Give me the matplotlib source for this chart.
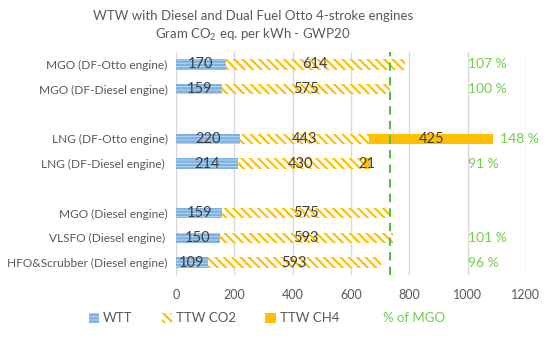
import matplotlib.pyplot as plt
from matplotlib.patches import Patch
import numpy as np

plt.rcParams['font.family'] = ['Lato', 'DejaVu Sans']
plt.rcParams['mathtext.default'] = 'regular'
plt.rcParams['hatch.linewidth'] = 1.6

# 数据
categories = ["MGO (DF-Otto engine)", "MGO (DF-Diesel engine)",
              "LNG (DF-Otto engine)", "LNG (DF-Diesel engine) ",
              "MGO (Diesel engine)", "VLSFO (Diesel engine) ",
              "HFO&Scrubber (Diesel engine)"]
wtt = [170, 159, 220, 214, 159, 150, 109]
ttw_co2 = [614, 575, 443, 430, 575, 593, 593]
ttw_ch4 = [0, 0, 425, 21, 0, 0, 0]
pct_of_mgo = ["107 %", "100 %", "148 %", "91 %", "", "101 %", "96 %"]
mgo_ref = 159 + 575
group_sizes = [2, 2, 3]

# 行位置（组间空一行）
ypos = []
start = 0
for g in group_sizes:
    ypos += list(range(start, start + g))
    start += g + 1
ypos = np.array(ypos)

blue_face = '#B4D4F0'
blue_edge = '#7DB0E0'
orange = '#FFC000'
green = '#6FCF4A'
txt = '#404040'

fig = plt.figure(figsize=(5.5, 3.41), dpi=100)
ax = fig.add_axes([0.32, 0.1935, 0.636, 0.654])

h = 0.42
wtt = np.array(wtt)
co2 = np.array(ttw_co2)
ch4 = np.array(ttw_ch4)
ax.barh(ypos, wtt, height=h, color=blue_face, edgecolor=blue_edge, hatch='-----', linewidth=0, zorder=3)
ax.barh(ypos, co2, left=wtt, height=h, color='white', edgecolor=orange, hatch='\\\\\\\\', linewidth=0, zorder=3)
ax.barh(ypos, ch4, left=wtt + co2, height=h, color=orange, linewidth=0, zorder=3)

for i, y in enumerate(ypos):
    ax.text(wtt[i] / 2, y, str(wtt[i]), ha='center', va='center', color=txt, fontsize=10.5, zorder=5)
    ax.text(wtt[i] + co2[i] / 2, y, str(co2[i]), ha='center', va='center', color=txt, fontsize=10.5, zorder=5)
    if ch4[i] > 0:
        ax.text(wtt[i] + co2[i] + ch4[i] / 2, y, str(ch4[i]), ha='center', va='center', color=txt, fontsize=10.5, zorder=5)
    total = wtt[i] + co2[i] + ch4[i]
    if pct_of_mgo[i]:
        xp = max(1000, total + 25)
        ax.text(xp, y, pct_of_mgo[i], ha='left', va='center', color=green, fontsize=10, zorder=5)

ax.axvline(mgo_ref, color='#4CC43A', linestyle=(0, (4, 3)), linewidth=1.5, zorder=4)

ax.set_xlim(0, 1200)
ax.set_xticks(range(0, 1201, 200))
ax.set_ylim(8.5, -0.5)
ax.set_yticks(ypos)
ax.set_yticklabels(categories)
ax.tick_params(axis='y', length=0, labelsize=8.6, labelcolor='#595959', pad=6)
ax.tick_params(axis='x', length=0, labelsize=9, labelcolor='#595959', pad=10)
ax.grid(axis='x', color='#D9D9D9', linewidth=1, zorder=0)
for s in ['top', 'right', 'bottom']:
    ax.spines[s].set_visible(False)
ax.spines['left'].set_color('#D9D9D9')

fig.text(0.46, 0.953, "WTW with Diesel and Dual Fuel Otto 4-stroke engines",
         ha='center', va='center', fontsize=9.5, color='#595959')
fig.text(0.46, 0.897, "Gram CO$_2$ eq. per kWh - GWP20",
         ha='center', va='center', fontsize=9.5, color='#595959')

handles = [Patch(facecolor=blue_face, edgecolor=blue_edge, hatch='-----', linewidth=0),
           Patch(facecolor='white', edgecolor=orange, hatch='\\\\\\\\', linewidth=0),
           Patch(facecolor=orange, linewidth=0),
           Patch(facecolor='none', edgecolor='none')]
leg = fig.legend(handles, ["WTT", "TTW CO2", "TTW CH4", "% of MGO"], loc='center',
                 bbox_to_anchor=(0.485, 0.066), ncol=4, frameon=False, fontsize=9.5,
                 handlelength=0.8, handleheight=0.8, handletextpad=0.3, columnspacing=2.2)
for t in leg.get_texts():
    t.set_color('#595959')
leg.get_texts()[3].set_color(green)

fig.savefig("out.png", dpi=100)
